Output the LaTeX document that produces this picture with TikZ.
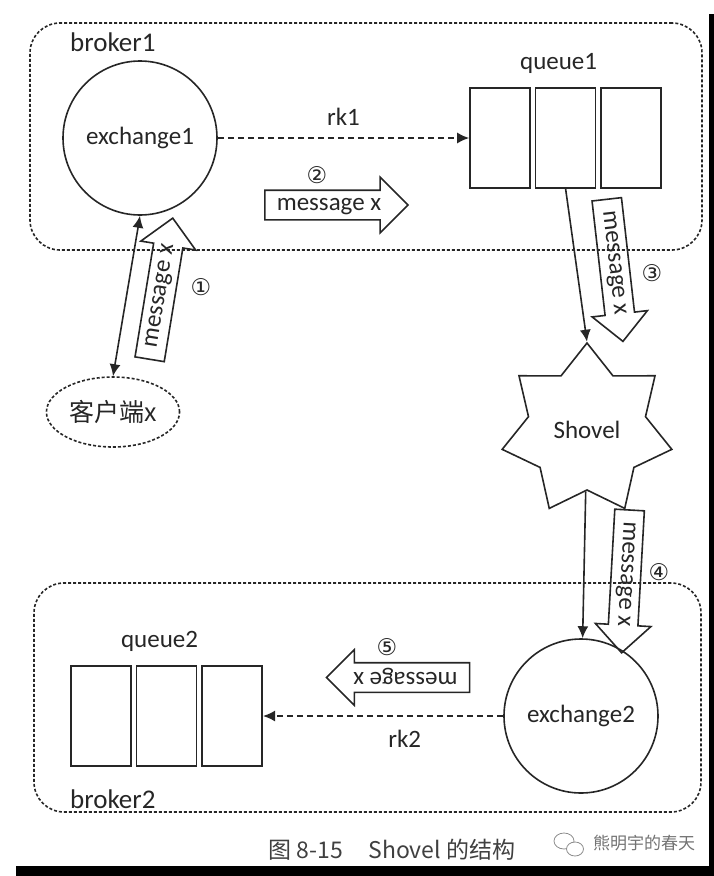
\documentclass[tikz,border=0pt]{standalone}
\usepackage{fontspec}
\setmainfont{Carlito}
\newfontfamily\cjk{Noto Sans CJK SC}
\newfontfamily\circfont{DejaVu Sans}
\usepackage{tikz}
\usetikzlibrary{arrows.meta,positioning,shapes.geometric,shapes.arrows}
\newcommand{\lblfont}{\fontsize{25pt}{30pt}\selectfont}
\newcommand{\numfont}{\circfont\fontsize{23pt}{26pt}\selectfont}
\colorlet{ink}{black!85}

\begin{document}
\begin{tikzpicture}[x=1pt, y=-1pt, >={Latex[length=12pt,width=11pt]}, line width=1.6pt, color=ink, font=\lblfont]
			\tikzstyle{brokerbox}=[draw, dash pattern=on 3pt off 2pt, rounded corners=30pt, inner sep=0pt]
			\tikzstyle{exch}=[circle, draw, minimum size=154pt, inner sep=0pt]
			\tikzstyle{slot}=[rectangle, draw, minimum width=60pt, minimum height=100pt, inner sep=0pt]
			\tikzstyle{msg}=[single arrow, draw, single arrow head extend=13pt, inner xsep=2pt, inner ysep=4pt, text height=15pt, text depth=5pt, minimum height=143pt]
			\tikzstyle{num}=[font=\numfont, inner sep=0pt]
			\tikzstyle{rk}=[->, dash pattern=on 6pt off 4pt]
			\useasboundingbox (0,0) rectangle (714,876);

			% broker1
			\node[brokerbox, minimum width=672pt, minimum height=227pt] (broker1) at (366,136.5) {};
			\node[anchor=west, font=\fontsize{27pt}{30pt}\selectfont] (b1label) at (66,42) {broker1};
			\node[exch] (ex1) at (140,138) {exchange1};
			\node[slot] (q1a) at (500,138) {}; \node[slot, right=4pt of q1a] (q1b) {};
			\node[slot, right=4pt of q1b] (q1c) {};
			\node[above=10pt of q1b, xshift=-7pt] (q1label) {queue1};
			\draw[rk] (ex1) -- node[above=8pt] (rk1lbl) {rk1} (q1a);
			\node[msg] (m2) at (329,205) {message x};
			\node[num] (n2) at (317,175) {②};

			% client
			\node[ellipse, draw, dash pattern=on 3pt off 2pt, minimum width=130pt, minimum height=70pt, font=\cjk\lblfont] (client) at (113,412) {客户端x};
			\draw[<->] (ex1.south) -- (client.north);
			\node[msg, rotate=80.7] (m1) at (160,296) {message x};
			\node[num] (n1) at (201,287) {①};

			% shovel
			\node[star, star points=7, star point ratio=1.45, minimum size=174pt, inner sep=0pt, draw] (shovel) at (587,430) {Shovel};
			\draw[->] (q1b.south) -- (shovel.north);
			\node[msg, rotate=-83.5] (m3) at (614,263) {message x};
			\node[num] (n3) at (652,273) {③};

			% broker2
			\node[brokerbox, minimum width=667pt, minimum height=229pt] (broker2) at (367.5,697.5) {};
			\node[anchor=west, font=\fontsize{27pt}{30pt}\selectfont] (b2label) at (66,799) {broker2};
			\node[exch] (ex2) at (581,716) {exchange2};
			\draw[->] (shovel) -- (ex2);
			\node[msg, rotate=-93.2] (m4) at (626,574) {message x};
			\node[num] (n4) at (659,572) {④};
			\node[slot] (q2a) at (101,716) {}; \node[slot, right=4pt of q2a] (q2b) {};
			\node[slot, right=4pt of q2b] (q2c) {};
			\node[above=10pt of q2b, xshift=-7pt] (q2label) {queue2};
			\draw[rk] (ex2) -- node[pos=0.41, below=10pt] (rk2lbl) {rk2} (q2c);
			\node[msg, rotate=180] (m5) at (405.5,677.5) {message x};
			\node[num] (n5) at (387,647) {⑤};

			% caption and mark
			\node[font=\cjk\fontsize{23pt}{26pt}\selectfont, text=black!75] (caption) at (392,850) {图 8-15\hspace{1.1em}Shovel 的结构};
			\node[ellipse, draw=black!45, line width=0.8pt, minimum width=20pt, minimum height=16pt, inner sep=0pt] (wxa) at (564,841) {};
			\node[ellipse, draw=black!45, fill=white, line width=0.8pt, minimum width=17pt, minimum height=14pt, inner sep=0pt] (wxb) at (575,849) {};
			\node[anchor=west, font=\cjk\fontsize{17pt}{19pt}\selectfont, text=black!55] (mark) at (589,843) {熊明宇的春天};
			\fill[black] (709,14) rectangle (714,876);
			\fill[black] (16,866) rectangle (714,876);
		\end{tikzpicture}
\end{document}
